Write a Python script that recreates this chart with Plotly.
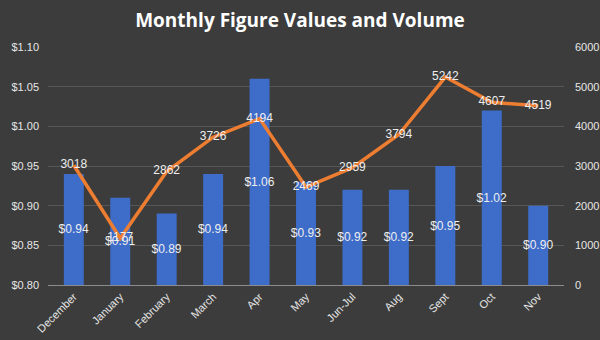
import plotly.graph_objects as go

months = ["December", "January", "February", "March", "Apr", "May", "Jun-Jul", "Aug", "Sept", "Oct", "Nov"]
values = [0.94, 0.91, 0.89, 0.94, 1.06, 0.93, 0.92, 0.92, 0.95, 1.02, 0.90]
volume = [3018, 1177, 2862, 3726, 4194, 2469, 2959, 3794, 5242, 4607, 4519]
left_ticks = [0.80, 0.85, 0.90, 0.95, 1.00, 1.05, 1.10]
right_ticks = [0, 1000, 2000, 3000, 4000, 5000, 6000]

txt = "#e6e6e6"
font = "Liberation Sans, Arial, sans-serif"

fig = go.Figure()
fig.add_trace(go.Bar(
    x=months, y=[round(v - 0.80, 4) for v in values], base=0.80, yaxis="y",
    marker=dict(color="#3d6cc9", line=dict(width=0)),
    width=0.43,
    text=[f"${v:.2f}" for v in values],
    textposition="inside", insidetextanchor="middle", textangle=0,
    constraintext="none",
    textfont=dict(color="#eeeeee", size=12, family=font),
    cliponaxis=False,
))

fig.add_trace(go.Scatter(
    x=months, y=volume, yaxis="y2", mode="lines+text",
    line=dict(color="#ed7d31", width=3.5),
    text=[str(v) for v in volume], textposition="middle center",
    textfont=dict(color="#eeeeee", size=12, family=font),
    cliponaxis=False,
))

fig.update_layout(
    width=600, height=340,
    margin=dict(l=48, r=36, t=47, b=55, autoexpand=False),
    paper_bgcolor="#3c3c3c", plot_bgcolor="rgba(0,0,0,0)",
    showlegend=False,
    title=dict(text="<b>Monthly Figure Values and Volume</b>", x=0.5, xanchor="center",
               y=0.94, yanchor="middle",
               font=dict(family="Open Sans, sans-serif", size=19, color="#ffffff")),
    xaxis=dict(tickangle=-45, tickfont=dict(color=txt, size=11, family=font),
               showgrid=False, showline=True, linecolor="#8c8c8c", linewidth=1,
               ticks="", zeroline=False, automargin=False),
    yaxis=dict(range=[0.80, 1.10], tickvals=left_ticks,
               ticktext=[f"${t:.2f}" for t in left_ticks],
               tickfont=dict(color=txt, size=11, family=font),
               gridcolor="#575757", gridwidth=1, zeroline=False, ticks="",
               ticklabelstandoff=8, automargin=False),
    yaxis2=dict(range=[0, 6000], tickvals=right_ticks, overlaying="y", side="right",
                tickfont=dict(color=txt, size=11, family=font),
                showgrid=False, zeroline=False, ticks="", ticklabelstandoff=10,
                automargin=False),
)

fig.write_html("out.html")
